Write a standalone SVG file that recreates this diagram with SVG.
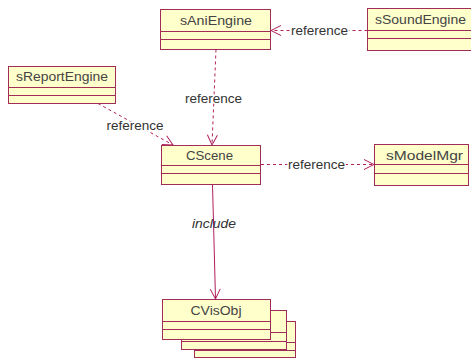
<svg xmlns="http://www.w3.org/2000/svg" width="471" height="358" viewBox="0 0 471 358">
  <style>
    .box { fill: #FFFFCC; stroke: #A02C58; stroke-width: 1; }
    .div { stroke: #A02C58; stroke-width: 1; fill: none; }
    .name { font-family: "Liberation Sans", Arial, sans-serif; font-size: 13px; fill: #444444; text-anchor: middle; }
    .dep { fill: none; stroke: #B0205A; stroke-width: 1; stroke-dasharray: 3 3; marker-end: url(#open); }
    .inc { fill: none; stroke: #B0205A; stroke-width: 1; marker-end: url(#open); }
    .lbl { font-family: "Liberation Sans", Arial, sans-serif; font-size: 13px; fill: #333333; text-anchor: middle; paint-order: stroke; stroke: #FFFFFF; stroke-width: 3; }
    .lbl-i { font-family: "Liberation Sans", Arial, sans-serif; font-size: 13px; font-style: italic; fill: #333333; text-anchor: middle; }
  </style>
  <defs>
    <marker id="open" markerUnits="userSpaceOnUse" markerWidth="12" markerHeight="12" refX="10" refY="5" orient="auto" overflow="visible">
      <path d="M0,0 L10,5 L0,10" fill="none" stroke="#B0205A" stroke-width="1"/>
    </marker>
  </defs>
  <rect width="471" height="358" fill="#FFFFFF"/>

  <!-- connectors -->
  <g id="connectors">
    <path class="dep" d="M367.5,30.5 L271,30.5"/>
    <path class="dep" d="M216,49.5 L212,145"/>
    <path class="dep" d="M98,103.5 L173,145"/>
    <path class="dep" d="M261,164.5 L374,164.5"/>
    <path class="inc" d="M212.5,184.5 L215.5,299"/>
    <text class="lbl" x="319.5" y="35" textLength="57" lengthAdjust="spacingAndGlyphs">reference</text>
    <text class="lbl" x="213.5" y="102.5" textLength="57" lengthAdjust="spacingAndGlyphs">reference</text>
    <text class="lbl" x="135" y="130" textLength="57" lengthAdjust="spacingAndGlyphs">reference</text>
    <text class="lbl" x="316.5" y="169" textLength="57" lengthAdjust="spacingAndGlyphs">reference</text>
    <text class="lbl-i" x="214" y="228" textLength="44" lengthAdjust="spacingAndGlyphs">include</text>
  </g>

  <!-- classes -->
  <g id="sAniEngine">
    <rect class="box" x="160.5" y="9.5" width="110" height="40"/>
    <path class="div" d="M160.5,31.5 H270.5 M160.5,39.5 H270.5"/>
    <text class="name" x="216" y="25" textLength="72" lengthAdjust="spacingAndGlyphs">sAniEngine</text>
  </g>

  <g id="sSoundEngine">
    <rect class="box" x="367.5" y="8.5" width="110" height="42"/>
    <path class="div" d="M367.5,30.5 H477.5 M367.5,38.5 H477.5"/>
    <text class="name" x="420.5" y="24" textLength="91" lengthAdjust="spacingAndGlyphs">sSoundEngine</text>
  </g>

  <g id="sReportEngine">
    <rect class="box" x="8.5" y="66.5" width="107" height="37"/>
    <path class="div" d="M8.5,87.5 H115.5 M8.5,95.5 H115.5"/>
    <text class="name" x="62" y="81" textLength="92" lengthAdjust="spacingAndGlyphs">sReportEngine</text>
  </g>

  <g id="CScene">
    <rect class="box" x="161.5" y="145.5" width="99" height="39"/>
    <path class="div" d="M161.5,165.5 H260.5 M161.5,173.5 H260.5"/>
    <text class="name" x="209.5" y="160" textLength="47" lengthAdjust="spacingAndGlyphs">CScene</text>
  </g>

  <g id="sModelMgr">
    <rect class="box" x="374.5" y="144.5" width="94" height="41"/>
    <path class="div" d="M374.5,164.5 H468.5 M374.5,173.5 H468.5"/>
    <text class="name" x="424.5" y="160" textLength="77" lengthAdjust="spacingAndGlyphs">sModelMgr</text>
  </g>

  <g id="CVisObj">
    <rect class="box" x="194.5" y="321.5" width="101" height="36"/>
    <path class="div" d="M194.5,342.5 H295.5 M194.5,350.5 H295.5"/>
    <rect class="box" x="181.5" y="310.5" width="105" height="39"/>
    <path class="div" d="M181.5,332.5 H286.5 M181.5,341.5 H286.5"/>
    <rect class="box" x="162.5" y="299.5" width="108" height="40"/>
    <path class="div" d="M162.5,321.5 H270.5 M162.5,329.5 H270.5"/>
    <text class="name" x="216" y="314.5" textLength="51" lengthAdjust="spacingAndGlyphs">CVisObj</text>
  </g>
</svg>
